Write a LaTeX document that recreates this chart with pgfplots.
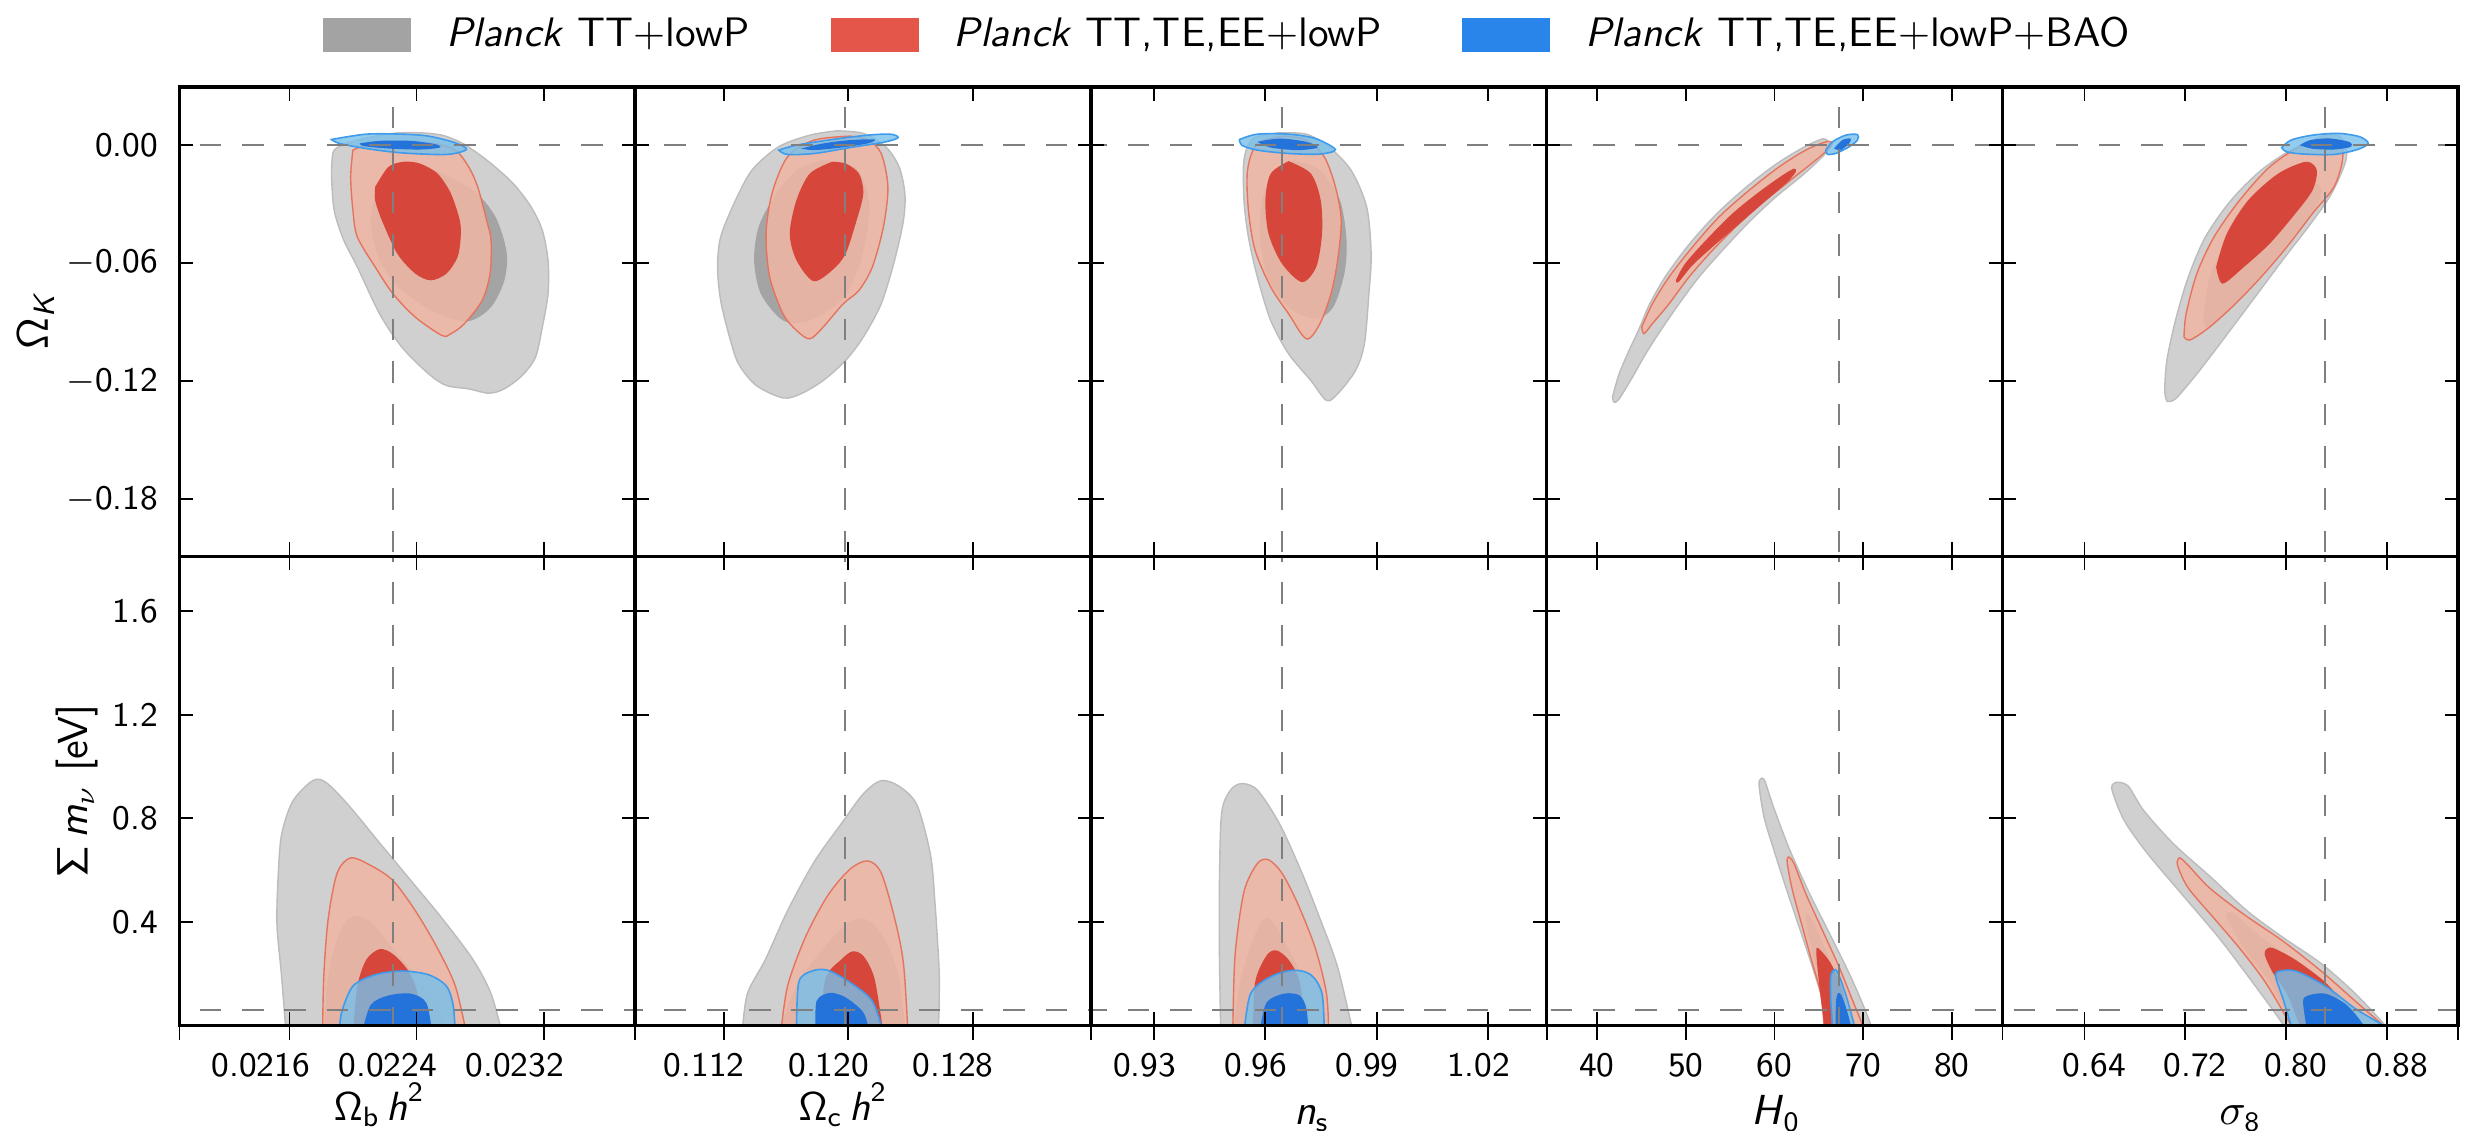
\documentclass[border=0pt]{standalone}
\usepackage{amsmath}
\usepackage{pgfplots}
\pgfplotsset{compat=1.18}
\renewcommand{\familydefault}{\sfdefault}

% contour fills: 68% (inner) and 95% (outer) regions
\definecolor{gOut}{HTML}{D0D0D0}
\definecolor{gEdge}{HTML}{BCBCBC}
\definecolor{gIn}{HTML}{A4A4A4}
\definecolor{rOut}{HTML}{EFB6A5}
\definecolor{rEdge}{HTML}{E5745F}
\definecolor{rIn}{HTML}{D6463A}
\definecolor{bOut}{HTML}{77C0EC}
\definecolor{bEdge}{HTML}{3F9BEC}
\definecolor{bIn}{HTML}{2373DB}
\definecolor{gLeg}{HTML}{A3A3A3}
\definecolor{rLeg}{HTML}{E5564A}
\definecolor{bLeg}{HTML}{2A85EA}
\definecolor{refc}{HTML}{7F7F7F}

\tikzset{
  omegalabel/.style={font=\fontsize{10.2}{12}\selectfont,
    at={(axis description cs:0.5,0)}, anchor=base, yshift=-23.6pt},
  plainlabel/.style={at={(axis description cs:0.5,0)}, anchor=base, yshift=-24.75pt},
}

\pgfplotsset{
  panel/.style={
    scale only axis, width=113.93pt, height=117.3pt, anchor=north west,
    axis on top, tick align=inside, major tick length=3.33pt,
    scaled x ticks=false, scaled y ticks=false,
    tick style={black, line width=0.45pt},
    axis line style={line width=0.9pt},
    ticklabel style={font=\fontsize{8.6}{10}\selectfont, inner sep=0pt},
    xticklabel style={yshift=-6.7pt},
    yticklabel style={xshift=-5.2pt},
    xticklabels={}, yticklabels={},
    label style={font=\fontsize{10.5}{12}\selectfont, inner sep=0pt},
    legend image code/.code={\path[##1] (0pt,-4.25pt) rectangle (22pt,4.25pt);},
    legend style={draw=none, fill=none, inner sep=0pt, outer sep=0pt,
      anchor=west, font=\fontsize{10.3}{12}\selectfont,
      nodes={inner sep=0pt},
      /tikz/every odd column/.style={column sep=8.75pt}},
  },
  toprow/.style={ymin=-0.209, ymax=0.0292, ytick={-0.18,-0.12,-0.06,0}},
  botrow/.style={ymin=0, ymax=1.81, ytick={0.4,0.8,1.2,1.6},
    extra x tick style={tick align=outside, major tick length=3.6pt,
      xticklabel={}}},
  go/.style={fill=gOut, draw=gEdge, line width=0.35pt, smooth},
  gi/.style={fill=gIn, draw=none, smooth},
  ro/.style={fill=rOut, fill opacity=0.88, draw=rEdge, line width=0.35pt, smooth},
  ri/.style={fill=rIn, draw=none, smooth},
  bo/.style={fill=bOut, fill opacity=0.8, draw=bEdge, line width=0.4pt, smooth},
  bi/.style={fill=bIn, draw=none, smooth},
  refl/.style={refc, line width=0.42pt, dash pattern=on 5.4pt off 5.2pt},
}

\begin{document}
\begin{tikzpicture}
\path[use as bounding box] (-44.875pt,21.825pt) rectangle (572.625pt,-260.925pt);

%% ---------------- top row: Omega_K ----------------
\begin{axis}[panel, toprow, at={(0pt,0pt)},
  xmin=0.020907, xmax=0.023777, xtick={0.0216,0.0224,0.0232},
  yticklabels={$-$0.18,$-$0.12,$-$0.06,0.00},
  ylabel={$\mathsf{\Omega}_{\textit{K}}$},
  ylabel style={at={(axis description cs:-0.315,0.5)}, anchor=center},
  legend style={at={(axis description cs:0.3149,1.1115)}}]
\addlegendimage{fill=gLeg, draw=none}
\addlegendentry{\textit{Planck} TT+lowP}
\addplot[go] coordinates {(0.021872,-0.0044) (0.021864,-0.0146) (0.021881,-0.0332) (0.021942,-0.0485) (0.022027,-0.0620) (0.022167,-0.0858) (0.022307,-0.1027) (0.022476,-0.1163) (0.022588,-0.1222) (0.022728,-0.1239) (0.022855,-0.1261) (0.022953,-0.1239) (0.023065,-0.1171) (0.023149,-0.1078) (0.023192,-0.0926) (0.023228,-0.0756) (0.023228,-0.0587) (0.023192,-0.0434) (0.023121,-0.0315) (0.023009,-0.0197) (0.022869,-0.0095) (0.022756,-0.0027) (0.022672,0.0015) (0.022560,0.0049) (0.022420,0.0061) (0.022251,0.0058) (0.022027,0.0024) (0.021900,-0.0014) (0.021872,-0.0044)} -- cycle;
\addplot[gi] coordinates {(0.022476,-0.0112) (0.022756,-0.0231) (0.022897,-0.0366) (0.022967,-0.0544) (0.022953,-0.0688) (0.022869,-0.0824) (0.022728,-0.0895) (0.022532,-0.0858) (0.022307,-0.0739) (0.022167,-0.0586) (0.022111,-0.0383) (0.022167,-0.0214) (0.022307,-0.0129) (0.022476,-0.0112)} -- cycle;
\addplot[ro] coordinates {(0.021999,-0.0027) (0.021985,-0.0163) (0.021999,-0.0332) (0.022027,-0.0468) (0.022139,-0.0620) (0.022251,-0.0756) (0.022392,-0.0875) (0.022560,-0.0968) (0.022616,-0.0959) (0.022700,-0.0909) (0.022813,-0.0790) (0.022863,-0.0654) (0.022869,-0.0485) (0.022841,-0.0383) (0.022785,-0.0214) (0.022728,-0.0112) (0.022644,-0.0027) (0.022504,0.0007) (0.022307,0.0015) (0.022111,0.0007) (0.021999,-0.0027)} -- cycle;
\addplot[ri] coordinates {(0.022139,-0.0214) (0.022223,-0.0112) (0.022321,-0.0086) (0.022420,-0.0095) (0.022532,-0.0146) (0.022616,-0.0247) (0.022672,-0.0383) (0.022678,-0.0468) (0.022658,-0.0570) (0.022588,-0.0654) (0.022490,-0.0688) (0.022392,-0.0654) (0.022279,-0.0553) (0.022181,-0.0383) (0.022139,-0.0281) (0.022139,-0.0214)} -- cycle;
\addplot[bo] coordinates {(0.021864,0.0027) (0.022083,0.0054) (0.022307,0.0054) (0.022476,0.0044) (0.022644,0.0010) (0.022714,-0.0024) (0.022588,-0.0049) (0.022307,-0.0041) (0.022083,-0.0019) (0.021914,0.0007) (0.021864,0.0027)} -- cycle;
\addplot[bi] coordinates {(0.022041,0.0007) (0.022167,0.0020) (0.022364,0.0020) (0.022518,0.0003) (0.022546,-0.0014) (0.022420,-0.0024) (0.022223,-0.0019) (0.022069,-0.0007) (0.022041,0.0007)} -- cycle;
\addplot[refl] coordinates {(0.02225,-0.25) (0.02225,0.05)};
\addplot[refl] coordinates {(0.0205,0) (0.0240,0)};
\end{axis}

\begin{axis}[panel, toprow, at={(113.93pt,0pt)},
  xmin=0.10631, xmax=0.1356, xtick={0.112,0.120,0.128},
  legend style={at={(axis description cs:0.429,1.1115)}}]
\addlegendimage{fill=rLeg, draw=none}
\addlegendentry{\textit{Planck} TT,TE,EE+lowP}
\addplot[go] coordinates {(0.11925,0.0071) (0.11753,0.0049) (0.11553,-0.0010) (0.11381,-0.0129) (0.11266,-0.0298) (0.11180,-0.0468) (0.11160,-0.0620) (0.11180,-0.0790) (0.11237,-0.0976) (0.11295,-0.1112) (0.11409,-0.1222) (0.11581,-0.1285) (0.11696,-0.1264) (0.11839,-0.1197) (0.11983,-0.1095) (0.12097,-0.0976) (0.12212,-0.0807) (0.12298,-0.0586) (0.12355,-0.0383) (0.12364,-0.0247) (0.12327,-0.0112) (0.12241,-0.0010) (0.12097,0.0058) (0.11925,0.0071)} -- cycle;
\addplot[gi] coordinates {(0.11839,-0.0078) (0.11667,-0.0129) (0.11524,-0.0264) (0.11424,-0.0417) (0.11395,-0.0586) (0.11438,-0.0756) (0.11581,-0.0892) (0.11753,-0.0892) (0.11954,-0.0790) (0.12069,-0.0620) (0.12126,-0.0417) (0.12126,-0.0247) (0.12040,-0.0112) (0.11839,-0.0078)} -- cycle;
\addplot[ro] coordinates {(0.12011,0.0044) (0.11782,0.0024) (0.11610,-0.0061) (0.11510,-0.0247) (0.11472,-0.0451) (0.11495,-0.0671) (0.11581,-0.0858) (0.11667,-0.0942) (0.11753,-0.0985) (0.11839,-0.0925) (0.11968,-0.0807) (0.12069,-0.0739) (0.12155,-0.0620) (0.12226,-0.0417) (0.12255,-0.0214) (0.12212,-0.0044) (0.12126,0.0024) (0.12011,0.0044)} -- cycle;
\addplot[ri] coordinates {(0.11897,-0.0086) (0.11753,-0.0146) (0.11667,-0.0281) (0.11624,-0.0451) (0.11667,-0.0586) (0.11776,-0.0692) (0.11897,-0.0637) (0.11983,-0.0553) (0.12054,-0.0383) (0.12097,-0.0247) (0.12069,-0.0146) (0.11983,-0.0095) (0.11897,-0.0086)} -- cycle;
\addplot[bo] coordinates {(0.11553,-0.0027) (0.11667,-0.0002) (0.11897,0.0027) (0.12126,0.0049) (0.12270,0.0054) (0.12321,0.0037) (0.12241,0.0015) (0.12011,-0.0014) (0.11782,-0.0044) (0.11610,-0.0049) (0.11553,-0.0027)} -- cycle;
\addplot[bi] coordinates {(0.11696,-0.0019) (0.11839,0.0007) (0.12011,0.0024) (0.12169,0.0027) (0.12126,0.0007) (0.11954,-0.0014) (0.11782,-0.0027) (0.11696,-0.0019)} -- cycle;
\addplot[refl] coordinates {(0.1198,-0.25) (0.1198,0.05)};
\addplot[refl] coordinates {(0.10,0) (0.14,0)};
\end{axis}

\begin{axis}[panel, toprow, at={(227.86pt,0pt)},
  xmin=0.913, xmax=1.0358, xtick={0.93,0.96,0.99,1.02},
  legend style={at={(axis description cs:0.8152,1.1115)}}]
\addlegendimage{fill=bLeg, draw=none}
\addlegendentry{\textit{Planck} TT,TE,EE+lowP+BAO}
\addplot[go] coordinates {(0.96385,0.0061) (0.95663,0.0032) (0.95423,-0.0078) (0.95423,-0.0281) (0.95543,-0.0468) (0.95784,-0.0671) (0.96144,-0.0892) (0.96625,-0.1061) (0.97226,-0.1197) (0.97647,-0.1298) (0.97948,-0.1264) (0.98429,-0.1146) (0.98669,-0.1010) (0.98790,-0.0756) (0.98850,-0.0553) (0.98729,-0.0315) (0.98309,-0.0129) (0.97707,-0.0010) (0.97106,0.0054) (0.96385,0.0061)} -- cycle;
\addplot[gi] coordinates {(0.96746,-0.0078) (0.96024,-0.0214) (0.95844,-0.0417) (0.96024,-0.0654) (0.96625,-0.0824) (0.97347,-0.0883) (0.97828,-0.0824) (0.98128,-0.0654) (0.98188,-0.0485) (0.98008,-0.0281) (0.97467,-0.0129) (0.96746,-0.0078)} -- cycle;
\addplot[ro] coordinates {(0.96505,0.0044) (0.95784,0.0007) (0.95519,-0.0129) (0.95543,-0.0332) (0.95723,-0.0536) (0.96144,-0.0722) (0.96625,-0.0858) (0.97106,-0.0985) (0.97467,-0.0909) (0.97768,-0.0756) (0.97948,-0.0586) (0.98044,-0.0383) (0.97888,-0.0214) (0.97587,-0.0061) (0.97106,0.0024) (0.96505,0.0044)} -- cycle;
\addplot[ri] coordinates {(0.96625,-0.0083) (0.96144,-0.0146) (0.96000,-0.0281) (0.96084,-0.0451) (0.96445,-0.0603) (0.96986,-0.0697) (0.97371,-0.0620) (0.97527,-0.0451) (0.97491,-0.0281) (0.97226,-0.0146) (0.96625,-0.0083)} -- cycle;
\addplot[bo] coordinates {(0.95303,0.0027) (0.95784,0.0054) (0.96625,0.0054) (0.97347,0.0032) (0.97888,-0.0024) (0.97467,-0.0047) (0.96625,-0.0044) (0.95784,-0.0027) (0.95363,-0.0002) (0.95303,0.0027)} -- cycle;
\addplot[bi] coordinates {(0.95784,0.0015) (0.96385,0.0032) (0.97106,0.0015) (0.97407,-0.0014) (0.96866,-0.0027) (0.96144,-0.0014) (0.95784,0.0015)} -- cycle;
\addplot[refl] coordinates {(0.9645,-0.25) (0.9645,0.05)};
\addplot[refl] coordinates {(0.90,0) (1.05,0)};
\end{axis}

\begin{axis}[panel, toprow, at={(341.79pt,0pt)},
  xmin=34.34, xmax=85.68, xtick={40,50,60,70,80}]
\addplot[go] coordinates {(41.75,-0.1281) (42.50,-0.1163) (43.62,-0.1044) (44.68,-0.0942) (45.87,-0.0815) (47.68,-0.0671) (50.31,-0.0510) (53.32,-0.0358) (56.76,-0.0217) (60.15,-0.0099) (63.15,-0.0016) (65.02,0.0024) (65.70,0.0029) (66.34,-0.0002) (65.40,-0.0061) (63.15,-0.0155) (60.15,-0.0265) (57.14,-0.0392) (54.14,-0.0536) (51.51,-0.0671) (49.26,-0.0807) (47.19,-0.0942) (45.50,-0.1061) (44.00,-0.1180) (42.50,-0.1290) (41.94,-0.1307) (41.75,-0.1281)} -- cycle;
\addplot[ro] coordinates {(45.05,-0.0925) (46.25,-0.0807) (48.13,-0.0671) (50.76,-0.0519) (53.76,-0.0366) (57.14,-0.0231) (60.52,-0.0112) (63.52,-0.0027) (65.78,0.0015) (66.53,0.0010) (66.15,-0.0019) (64.65,-0.0078) (62.02,-0.0172) (59.02,-0.0281) (56.01,-0.0400) (53.01,-0.0536) (50.38,-0.0671) (48.13,-0.0807) (46.25,-0.0908) (45.31,-0.0959) (45.05,-0.0925)} -- cycle;
\addplot[ri] coordinates {(48.88,-0.0688) (49.94,-0.0603) (52.26,-0.0485) (55.26,-0.0349) (58.27,-0.0239) (60.89,-0.0155) (62.21,-0.0121) (62.40,-0.0138) (61.27,-0.0197) (58.64,-0.0298) (55.64,-0.0417) (53.01,-0.0519) (50.76,-0.0612) (49.19,-0.0697) (48.88,-0.0688)} -- cycle;
\addplot[bo] coordinates {(65.78,-0.0027) (66.53,0.0015) (68.03,0.0049) (69.35,0.0052) (69.35,0.0024) (68.41,-0.0010) (66.90,-0.0044) (65.96,-0.0048) (65.78,-0.0027)} -- cycle;
\addplot[bi] coordinates {(66.71,-0.0019) (67.65,0.0024) (68.59,0.0032) (68.41,0.0007) (67.46,-0.0027) (66.71,-0.0019)} -- cycle;
\addplot[refl] coordinates {(67.27,-0.25) (67.27,0.05)};
\addplot[refl] coordinates {(30,0) (90,0)};
\end{axis}

\begin{axis}[panel, toprow, at={(455.72pt,0pt)},
  xmin=0.5747, xmax=0.9368, xtick={0.64,0.72,0.80,0.88}]
\addplot[go] coordinates {(0.70537,-0.1302) (0.70367,-0.1248) (0.70537,-0.1095) (0.71218,-0.0892) (0.72239,-0.0671) (0.73600,-0.0468) (0.75643,-0.0281) (0.78026,-0.0129) (0.80408,-0.0027) (0.83132,0.0049) (0.84323,0.0041) (0.84834,-0.0044) (0.84493,-0.0129) (0.83472,-0.0264) (0.81770,-0.0417) (0.79728,-0.0586) (0.77345,-0.0790) (0.74962,-0.0993) (0.72920,-0.1163) (0.71218,-0.1290) (0.70537,-0.1302)} -- cycle;
\addplot[gi] coordinates {(0.73430,-0.0892) (0.73941,-0.0671) (0.75643,-0.0451) (0.78026,-0.0281) (0.80749,-0.0180) (0.82791,-0.0214) (0.82110,-0.0349) (0.79728,-0.0536) (0.76664,-0.0756) (0.73941,-0.0925) (0.73430,-0.0892)} -- cycle;
\addplot[ro] coordinates {(0.71898,-0.0976) (0.72068,-0.0858) (0.72920,-0.0654) (0.74281,-0.0468) (0.76324,-0.0281) (0.78707,-0.0112) (0.81089,-0.0010) (0.83132,0.0032) (0.84323,0.0007) (0.84493,-0.0078) (0.83812,-0.0214) (0.82110,-0.0349) (0.80068,-0.0519) (0.78026,-0.0671) (0.75983,-0.0807) (0.73941,-0.0925) (0.72409,-0.0990) (0.71898,-0.0976)} -- cycle;
\addplot[ri] coordinates {(0.74452,-0.0620) (0.75302,-0.0451) (0.77004,-0.0281) (0.79387,-0.0146) (0.81600,-0.0086) (0.82451,-0.0129) (0.82110,-0.0231) (0.80749,-0.0349) (0.78707,-0.0502) (0.76664,-0.0620) (0.74962,-0.0705) (0.74452,-0.0620)} -- cycle;
\addplot[bo] coordinates {(0.79660,-0.0014) (0.80408,0.0024) (0.82110,0.0049) (0.84153,0.0058) (0.85855,0.0041) (0.86536,0.0007) (0.85685,-0.0024) (0.83812,-0.0049) (0.81430,-0.0047) (0.80068,-0.0036) (0.79660,-0.0014)} -- cycle;
\addplot[bi] coordinates {(0.81089,-0.0002) (0.81940,0.0024) (0.83472,0.0032) (0.85004,0.0015) (0.85174,-0.0010) (0.83812,-0.0024) (0.82110,-0.0020) (0.81089,-0.0002)} -- cycle;
\addplot[refl] coordinates {(0.831,-0.25) (0.831,0.05)};
\addplot[refl] coordinates {(0.55,0) (0.95,0)};
\end{axis}

%% ---------------- bottom row: sum of neutrino masses ----------------
\begin{axis}[panel, botrow, at={(0pt,-117.3pt)},
  xmin=0.020907, xmax=0.023777, xtick={0.0216,0.0224,0.0232},
  xticklabels={0.0216,0.0224,0.0232}, xticklabel style={xshift=-7.2pt},
  extra x ticks={0.020907,0.0216,0.0224,0.0232,0.023777},
  yticklabels={0.4,0.8,1.2,1.6},
  xlabel={$\mathsf{\Omega_b}\,\textit{h}^{\mathsf{2}}$},
  xlabel style={omegalabel, xshift=-7pt},
  ylabel={$\mathsf{\Sigma}\,\textit{m}_{\nu}$ [eV]},
  ylabel style={at={(axis description cs:-0.2249,0.5)}, anchor=center}]
\addplot[go] coordinates {(0.021578,-0.03) (0.021549,0.1964) (0.021521,0.3854) (0.021527,0.5600) (0.021549,0.7345) (0.021620,0.8654) (0.021746,0.9454) (0.021830,0.9382) (0.021971,0.8509) (0.022167,0.7054) (0.022364,0.5600) (0.022560,0.4145) (0.022756,0.2545) (0.022869,0.1236) (0.022939,-0.03)} -- cycle;
\addplot[gi] coordinates {(0.021816,-0.03) (0.021844,0.1964) (0.021914,0.3564) (0.021999,0.4218) (0.022111,0.4000) (0.022251,0.2982) (0.022392,0.1964) (0.022532,0.0800) (0.022588,-0.03)} -- cycle;
\addplot[ro] coordinates {(0.021808,-0.03) (0.021816,0.1964) (0.021844,0.4145) (0.021900,0.5891) (0.021985,0.6473) (0.022111,0.6182) (0.022251,0.5600) (0.022392,0.4436) (0.022532,0.2982) (0.022644,0.1527) (0.022714,-0.03)} -- cycle;
\addplot[ri] coordinates {(0.021999,-0.03) (0.022027,0.1527) (0.022083,0.2545) (0.022167,0.2953) (0.022251,0.2764) (0.022349,0.2109) (0.022406,0.1236) (0.022420,-0.03)} -- cycle;
\addplot[bo] coordinates {(0.021914,-0.03) (0.021928,0.0509) (0.021999,0.1527) (0.022139,0.1964) (0.022307,0.2109) (0.022476,0.1964) (0.022588,0.1527) (0.022630,0.0800) (0.022644,-0.03)} -- cycle;
\addplot[bi] coordinates {(0.022055,-0.03) (0.022111,0.0800) (0.022223,0.1164) (0.022364,0.1236) (0.022462,0.0873) (0.022498,-0.03)} -- cycle;
\addplot[refl] coordinates {(0.02225,-0.5) (0.02225,2)};
\addplot[refl] coordinates {(0.0205,0.06) (0.0240,0.06)};
\end{axis}

\begin{axis}[panel, botrow, at={(113.93pt,-117.3pt)},
  xmin=0.10631, xmax=0.1356, xtick={0.112,0.120,0.128},
  xticklabels={0.112,0.120,0.128}, xticklabel style={xshift=-4.9pt},
  extra x ticks={0.10631,0.112,0.120,0.128,0.1356},
  xlabel={$\mathsf{\Omega_c}\,\textit{h}^{\mathsf{2}}$},
  xlabel style={omegalabel, xshift=-5pt}]
\addplot[go] coordinates {(0.11318,-0.03) (0.11352,0.1236) (0.11467,0.2545) (0.11610,0.4436) (0.11782,0.6327) (0.11954,0.7782) (0.12097,0.8945) (0.12212,0.9454) (0.12327,0.9236) (0.12442,0.8509) (0.12528,0.6618) (0.12556,0.4873) (0.12585,0.1964) (0.12579,-0.03)} -- cycle;
\addplot[gi] coordinates {(0.11553,-0.03) (0.11667,0.1527) (0.11839,0.2982) (0.12011,0.4000) (0.12126,0.4073) (0.12241,0.3273) (0.12327,0.1818) (0.12370,-0.03)} -- cycle;
\addplot[ro] coordinates {(0.11567,-0.03) (0.11610,0.1527) (0.11725,0.3418) (0.11868,0.5018) (0.12011,0.6036) (0.12126,0.6356) (0.12212,0.5891) (0.12298,0.4145) (0.12355,0.2400) (0.12384,-0.03)} -- cycle;
\addplot[ri] coordinates {(0.11811,-0.03) (0.11854,0.1818) (0.11954,0.2545) (0.12026,0.2865) (0.12097,0.2691) (0.12169,0.1818) (0.12226,-0.03)} -- cycle;
\addplot[bo] coordinates {(0.11667,-0.03) (0.11682,0.1673) (0.11768,0.2109) (0.11868,0.2138) (0.12011,0.1673) (0.12155,0.0945) (0.12226,-0.03)} -- cycle;
\addplot[bi] coordinates {(0.11791,-0.03) (0.11796,0.0945) (0.11882,0.1265) (0.11983,0.1091) (0.12097,0.0509) (0.12140,-0.03)} -- cycle;
\addplot[refl] coordinates {(0.1198,-0.5) (0.1198,2)};
\addplot[refl] coordinates {(0.10,0.06) (0.14,0.06)};
\end{axis}

\begin{axis}[panel, botrow, at={(227.86pt,-117.3pt)},
  xmin=0.913, xmax=1.0358, xtick={0.93,0.96,0.99,1.02},
  xticklabels={0.93,0.96,0.99,1.02}, xticklabel style={xshift=-2.4pt},
  extra x ticks={0.913,0.93,0.96,0.99,1.02,1.0358},
  xlabel={\textit{n}$_{\mathsf{s}}$},
  xlabel style={plainlabel, xshift=-1.75pt}]
\addplot[go] coordinates {(0.94798,-0.03) (0.94762,0.2691) (0.94762,0.5600) (0.94822,0.8218) (0.95062,0.9091) (0.95363,0.9338) (0.95784,0.9091) (0.96385,0.7782) (0.96986,0.5891) (0.97467,0.4145) (0.97948,0.2255) (0.98369,-0.03)} -- cycle;
\addplot[gi] coordinates {(0.95122,-0.03) (0.95363,0.1964) (0.95784,0.3709) (0.96084,0.4145) (0.96505,0.3273) (0.96986,0.1818) (0.97287,-0.03)} -- cycle;
\addplot[ro] coordinates {(0.95122,-0.03) (0.95182,0.2691) (0.95423,0.5164) (0.95784,0.6255) (0.96084,0.6400) (0.96445,0.5891) (0.96866,0.4727) (0.97347,0.2982) (0.97647,0.1236) (0.97707,-0.03)} -- cycle;
\addplot[ri] coordinates {(0.95663,-0.03) (0.95723,0.1673) (0.96024,0.2691) (0.96289,0.2909) (0.96625,0.2545) (0.96926,0.1673) (0.97106,-0.03)} -- cycle;
\addplot[bo] coordinates {(0.95423,-0.03) (0.95603,0.1236) (0.96144,0.1891) (0.96746,0.2138) (0.97226,0.1964) (0.97527,0.1236) (0.97587,-0.03)} -- cycle;
\addplot[bi] coordinates {(0.95844,-0.03) (0.96024,0.0873) (0.96505,0.1236) (0.96926,0.1164) (0.97106,0.0655) (0.97166,-0.03)} -- cycle;
\addplot[refl] coordinates {(0.9645,-0.5) (0.9645,2)};
\addplot[refl] coordinates {(0.90,0.06) (1.05,0.06)};
\end{axis}

\begin{axis}[panel, botrow, at={(341.79pt,-117.3pt)},
  xmin=34.34, xmax=85.68, xtick={40,50,60,70,80},
  xticklabels={40,50,60,70,80},
  extra x ticks={34.34,40,50,60,70,80,85.68},
  xlabel={\textit{H}$_{\mathsf{0}}$},
  xlabel style={plainlabel, xshift=0.4pt}]
\addplot[go] coordinates {(65.85,-0.03) (65.78,0.004) (65.39,0.100) (64.27,0.228) (62.77,0.382) (61.27,0.535) (59.95,0.676) (58.83,0.804) (58.27,0.926) (58.46,0.952) (58.90,0.945) (59.90,0.843) (61.75,0.676) (63.95,0.510) (66.20,0.356) (68.40,0.203) (69.90,0.087) (70.84,0.004) (71.0,-0.03)} -- cycle;
\addplot[gi] coordinates {(65.6,-0.03) (65.39,0.126) (64.65,0.228) (63.82,0.356) (63.52,0.433) (64.27,0.407) (65.78,0.292) (67.65,0.126) (69.16,0.004) (69.3,-0.03)} -- cycle;
\addplot[ro] coordinates {(65.65,-0.03) (65.59,0.004) (65.21,0.126) (64.27,0.241) (63.14,0.382) (62.02,0.523) (61.45,0.625) (61.56,0.651) (62.21,0.625) (63.52,0.510) (65.39,0.369) (67.27,0.228) (68.77,0.100) (69.90,0.004) (70.0,-0.03)} -- cycle;
\addplot[ri] coordinates {(65.62,-0.03) (65.59,0.004) (65.02,0.164) (64.72,0.279) (64.90,0.300) (66.34,0.241) (67.65,0.138) (68.40,0.004) (68.45,-0.03)} -- cycle;
\addplot[bo] coordinates {(66.52,-0.03) (66.52,0.004) (66.34,0.100) (66.34,0.190) (66.71,0.215) (67.0,0.212) (67.46,0.177) (68.21,0.100) (68.96,0.004) (69.0,-0.03)} -- cycle;
\addplot[bi] coordinates {(66.90,-0.03) (66.90,0.050) (66.97,0.106) (67.2,0.126) (67.52,0.119) (68.02,0.074) (68.59,0.004) (68.6,-0.03)} -- cycle;
\addplot[refl] coordinates {(67.27,-0.5) (67.27,2)};
\addplot[refl] coordinates {(30,0.06) (90,0.06)};
\end{axis}

\begin{axis}[panel, botrow, at={(455.72pt,-117.3pt)},
  xmin=0.5747, xmax=0.9368, xtick={0.64,0.72,0.80,0.88},
  xticklabels={0.64,0.72,0.80,0.88}, xticklabel style={xshift=2.45pt},
  extra x ticks={0.5747,0.64,0.72,0.80,0.88,0.9368},
  xlabel={$\sigma_{\mathsf{8}}$},
  xlabel style={plainlabel, xshift=2.5pt}]
\addplot[go] coordinates {(0.7990,-0.03) (0.79728,0.0073) (0.77345,0.1673) (0.74622,0.3418) (0.7150,0.5200) (0.6890,0.6700) (0.67133,0.7927) (0.66180,0.9091) (0.66452,0.9382) (0.6745,0.9250) (0.6870,0.8300) (0.7110,0.7000) (0.7410,0.5700) (0.76900,0.4436) (0.79728,0.3418) (0.82791,0.2400) (0.85514,0.1236) (0.87897,0.0) (0.8810,-0.03)} -- cycle;
\addplot[gi] coordinates {(0.8050,-0.03) (0.80408,0.0) (0.78707,0.1673) (0.76664,0.2982) (0.75302,0.4145) (0.75302,0.4364) (0.75983,0.4291) (0.78026,0.3418) (0.81089,0.2400) (0.84153,0.1236) (0.86876,0.0) (0.8700,-0.03)} -- cycle;
\addplot[ro] coordinates {(0.8060,-0.03) (0.80408,0.0) (0.78366,0.1673) (0.76324,0.2982) (0.74281,0.4145) (0.72239,0.5309) (0.71388,0.6182) (0.71558,0.6473) (0.72239,0.6182) (0.73941,0.5309) (0.76664,0.4291) (0.79728,0.3273) (0.82791,0.2109) (0.85514,0.0945) (0.87727,0.0) (0.8790,-0.03)} -- cycle;
\addplot[ri] coordinates {(0.8120,-0.03) (0.81089,0.0) (0.80068,0.1236) (0.78877,0.2109) (0.78298,0.2764) (0.78536,0.2982) (0.79047,0.2982) (0.80749,0.2545) (0.82961,0.1745) (0.84153,0.1091) (0.85514,0.0) (0.8570,-0.03)} -- cycle;
\addplot[bo] coordinates {(0.8050,-0.03) (0.80408,0.0) (0.79728,0.1091) (0.79217,0.1818) (0.79300,0.2080) (0.80749,0.2109) (0.83132,0.1527) (0.85514,0.0655) (0.87727,0.0) (0.8790,-0.03)} -- cycle;
\addplot[bi] coordinates {(0.8160,-0.03) (0.81600,0.0) (0.81362,0.0945) (0.81770,0.1164) (0.83132,0.1236) (0.84834,0.0800) (0.86195,0.0) (0.8630,-0.03)} -- cycle;
\addplot[refl] coordinates {(0.831,-0.5) (0.831,2)};
\addplot[refl] coordinates {(0.55,0.06) (0.95,0.06)};
\end{axis}
\end{tikzpicture}
\end{document}
